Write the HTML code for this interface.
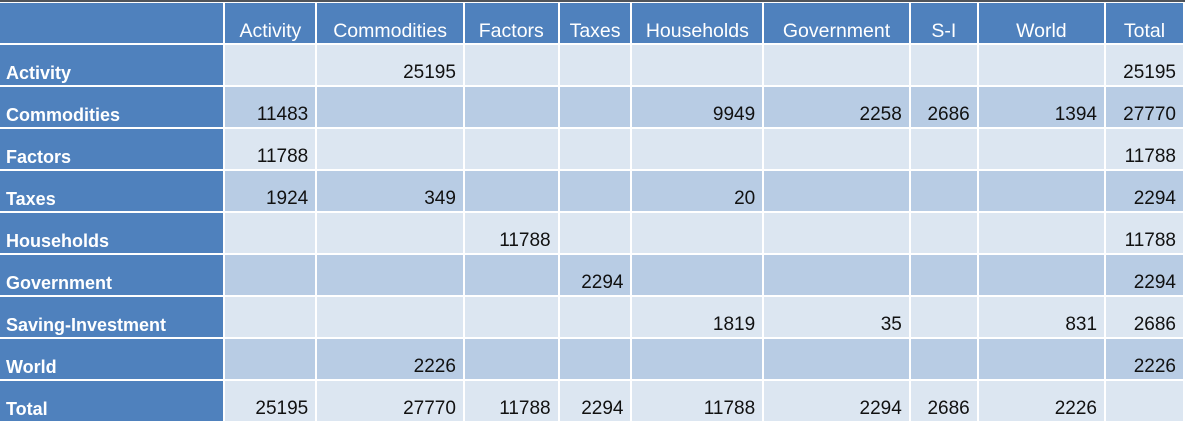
<!DOCTYPE html><html><head><style>
body{margin:0;width:1185px;height:420px;overflow:hidden;background:#fff;font-family:"Liberation Sans",sans-serif;}
.top{position:absolute;left:0;top:0;width:1185px;height:2px;background:#50545a;}
table{position:absolute;left:0;top:3px;border-collapse:collapse;table-layout:fixed;}
td{height:39px;border:2px solid #fff;padding:0 7px 1px 7px;vertical-align:bottom;font-size:19px;color:#111;text-align:right;line-height:22px;white-space:nowrap;overflow:hidden;}
tr.h td{background:#4f81bd;color:#fff;text-align:center;padding:0 0 1px 0;font-size:19.5px;}
td.l{background:#4f81bd;color:#fff;font-weight:bold;text-align:left;padding-left:6px;font-size:18px;}
tr.a td{background:#dce6f1;}
tr.b td{background:#b8cce4;}
tr.a td.l,tr.b td.l{background:#4f81bd;}
td:first-child{border-left:none;}
tr:first-child td{border-top:none;}
</style></head><body><div class="top"></div>
<table>
<colgroup><col style="width:225px"><col style="width:92px"><col style="width:148px"><col style="width:95px"><col style="width:73px"><col style="width:132px"><col style="width:147px"><col style="width:68px"><col style="width:128px"><col style="width:79px"></colgroup>
<tr class="h"><td class="l"></td><td>Activity</td><td>Commodities</td><td>Factors</td><td>Taxes</td><td>Households</td><td>Government</td><td>S-I</td><td>World</td><td>Total</td></tr>
<tr class="a"><td class="l">Activity</td><td></td><td>25195</td><td></td><td></td><td></td><td></td><td></td><td></td><td>25195</td></tr>
<tr class="b"><td class="l">Commodities</td><td>11483</td><td></td><td></td><td></td><td>9949</td><td>2258</td><td>2686</td><td>1394</td><td>27770</td></tr>
<tr class="a"><td class="l">Factors</td><td>11788</td><td></td><td></td><td></td><td></td><td></td><td></td><td></td><td>11788</td></tr>
<tr class="b"><td class="l">Taxes</td><td>1924</td><td>349</td><td></td><td></td><td>20</td><td></td><td></td><td></td><td>2294</td></tr>
<tr class="a"><td class="l">Households</td><td></td><td></td><td>11788</td><td></td><td></td><td></td><td></td><td></td><td>11788</td></tr>
<tr class="b"><td class="l">Government</td><td></td><td></td><td></td><td>2294</td><td></td><td></td><td></td><td></td><td>2294</td></tr>
<tr class="a"><td class="l">Saving-Investment</td><td></td><td></td><td></td><td></td><td>1819</td><td>35</td><td></td><td>831</td><td>2686</td></tr>
<tr class="b"><td class="l">World</td><td></td><td>2226</td><td></td><td></td><td></td><td></td><td></td><td></td><td>2226</td></tr>
<tr class="a"><td class="l">Total</td><td>25195</td><td>27770</td><td>11788</td><td>2294</td><td>11788</td><td>2294</td><td>2686</td><td>2226</td><td></td></tr>
</table></body></html>
